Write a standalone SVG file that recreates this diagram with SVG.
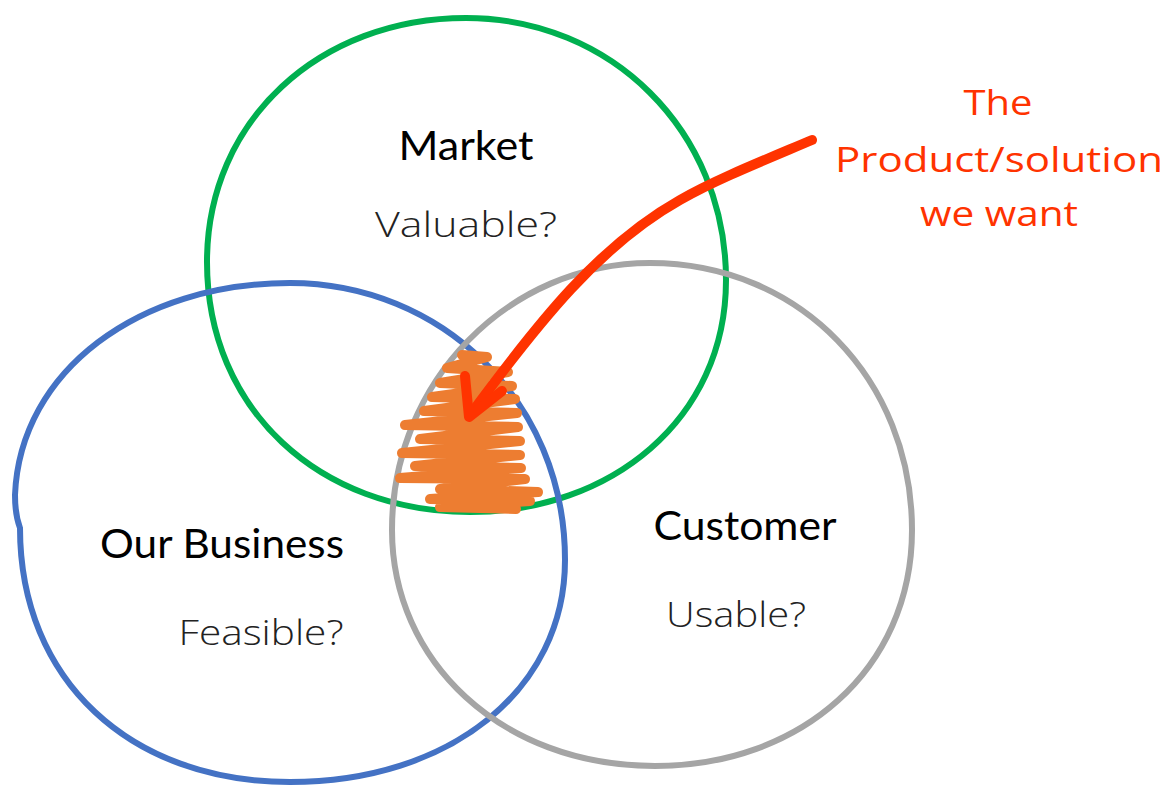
<svg xmlns="http://www.w3.org/2000/svg" width="1171" height="786" viewBox="0 0 1171 786">
<style>
.circ{fill:none;stroke-width:6}
.lbl{font-family:Lato,"Open Sans","Liberation Sans",sans-serif;font-size:41px;fill:#000;text-anchor:middle}
.hw{font-family:"Open Sans","DejaVu Sans",sans-serif;font-weight:300;font-size:34px;fill:#222;text-anchor:middle}
.red{font-family:"Open Sans","DejaVu Sans",sans-serif;font-weight:400;font-size:34px;fill:#FF3300;text-anchor:middle}
</style>
<rect width="1171" height="786" fill="#fff"/>
<g id="market">
<path class="circ" stroke="#00B050" d="M466,18 C610,18 726,130 726,280 C726,420 610,512 470,512 C320,512 207,410 207,262 C207,120 320,18 466,18 Z"/>
<text class="lbl" x="466" y="160" textLength="135" lengthAdjust="spacingAndGlyphs">Market</text>
<text class="hw" x="466" y="237" textLength="182" lengthAdjust="spacingAndGlyphs">Valuable?</text>
</g>
<g id="business">
<path class="circ" stroke="#4472C4" d="M290,283 C440,283 565,400 565,560 C565,690 450,782 290,782 C130,782 20,680 20,528 C17,520 15,510 15,495 C20,370 140,283 290,283 Z"/>
<text class="lbl" x="222" y="558" textLength="244" lengthAdjust="spacingAndGlyphs">Our Business</text>
<text class="hw" x="261" y="645" textLength="165" lengthAdjust="spacingAndGlyphs">Feasible?</text>
</g>
<g id="customer">
<path class="circ" stroke="#A5A5A5" d="M650,263 C800,263 912,380 912,530 C912,670 800,766 655,766 C500,766 392,660 392,530 C392,380 510,263 650,263 Z"/>
<text class="lbl" x="745" y="540" textLength="183" lengthAdjust="spacingAndGlyphs">Customer</text>
<text class="hw" x="736" y="627" textLength="140" lengthAdjust="spacingAndGlyphs">Usable?</text>
</g>
<g id="sweetspot">
<path fill="none" stroke="#ED7D31" stroke-width="10" stroke-linejoin="round" stroke-linecap="round" d="M462,355 L487,357 L447,368 L508,372 L440,383 L512,386 L432,397 L515,399 L424,411 L517,413 L405,425 L518,427 L420,439 L520,441 L402,453 L520,455 L415,466 L521,468 L400,478 L525,479 L440,489 L538,492 L430,499 L530,501 L440,507 L516,509"/>
</g>
<g id="connectors">
<path fill="none" stroke="#FF3300" stroke-width="10" stroke-linecap="round" d="M812,140 C760,162 715,180 680,200 C600,245 540,320 470,415"/>
<path fill="none" stroke="#FF3300" stroke-width="10" stroke-linecap="round" stroke-linejoin="round" d="M465,376 L469,417 L502,391"/>
</g>
<g id="callout">
<text class="red" x="998" y="115" textLength="69" lengthAdjust="spacingAndGlyphs">The</text>
<text class="red" x="999" y="172" textLength="328" lengthAdjust="spacingAndGlyphs">Product/solution</text>
<text class="red" x="999" y="226" textLength="158" lengthAdjust="spacingAndGlyphs">we want</text>
</g>
</svg>
